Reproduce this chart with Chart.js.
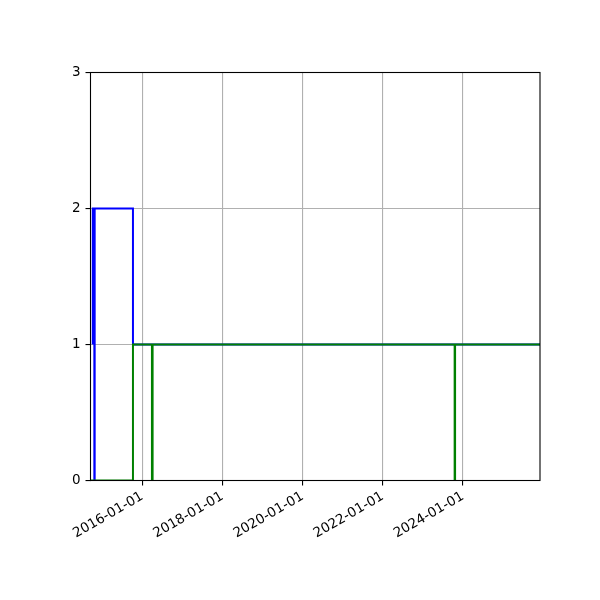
<!DOCTYPE html>
<html>
<head>
<meta charset="utf-8">
<script src="https://cdn.jsdelivr.net/npm/chart.js@4/dist/chart.umd.min.js"></script>
<style>
  html, body { margin: 0; padding: 0; background: #ffffff; }
  #wrap { width: 600px; height: 600px; }
</style>
</head>
<body>
<div id="wrap"><canvas id="c" width="600" height="600"></canvas></div>
<script>
// ---- data (steps-post: each value holds until the next date) ----
const blueDates  = ['2014-10-07', '2014-10-07', '2014-10-21', '2014-10-24', '2015-10-08', '2026-01-01'];
const blueValues = [1, 2, 0, 2, 1, 1];

const greenDates  = ['2014-09-01', '2015-10-08', '2016-03-29', '2016-04-04', '2023-10-18', '2023-10-22', '2026-01-01'];
const greenValues = [0, 1, 0, 1, 0, 1, 1];

const xRange     = ['2014-09-16', '2025-12-04'];
const xTickDates = ['2016-01-01', '2018-01-01', '2020-01-01', '2022-01-01', '2024-01-01'];
const yTicks     = [0, 1, 2, 3];

// ---- helpers ----
const toMs = s => Date.parse(s + 'T00:00:00Z');
const pad2 = n => String(n).padStart(2, '0');
const fmtDate = ms => { const d = new Date(ms); return d.getUTCFullYear() + '-' + pad2(d.getUTCMonth() + 1) + '-' + pad2(d.getUTCDate()); };
const toPoints = (dates, vals) => dates.map((d, i) => ({ x: toMs(d), y: vals[i] }));

const framePlugin = {
  id: 'frame',
  afterDatasetsDraw(chart) {
    const { ctx, chartArea: a } = chart;
    ctx.save();
    ctx.strokeStyle = '#000000';
    ctx.lineWidth = 1.1;
    ctx.strokeRect(a.left, a.top, a.right - a.left, a.bottom - a.top);
    ctx.restore();
  }
};

new Chart(document.getElementById('c'), {
  type: 'line',
  data: {
    datasets: [
      {
        label: 'blue',
        data: toPoints(blueDates, blueValues),
        borderColor: '#0000ff',
        borderWidth: 2,
        stepped: 'before',
        pointRadius: 0,
        fill: false,
        clip: 0,
        order: 2
      },
      {
        label: 'green',
        data: toPoints(greenDates, greenValues),
        borderColor: '#008000',
        borderWidth: 2,
        stepped: 'before',
        pointRadius: 0,
        fill: false,
        clip: 0,
        order: 1
      }
    ]
  },
  options: {
    responsive: false,
    animation: false,
    devicePixelRatio: 1,
    layout: { padding: { top: 72.5, right: 60, left: 0, bottom: 0 } },
    plugins: { legend: { display: false }, title: { display: false }, tooltip: { enabled: false } },
    scales: {
      x: {
        type: 'linear',
        min: toMs(xRange[0]),
        max: toMs(xRange[1]),
        afterBuildTicks: s => { s.ticks = xTickDates.map(d => ({ value: toMs(d) })); },
        afterFit: s => { s.height = 119.5; },
        grid: { color: '#b0b0b0', lineWidth: 1.1, tickColor: '#000000', tickLength: 5, drawTicks: true },
        border: { display: false },
        ticks: {
          callback: v => fmtDate(v),
          minRotation: 30, maxRotation: 30,
          autoSkip: false,
          padding: 3,
          color: '#000000',
          font: { family: 'DejaVu Sans', size: 13.5 }
        }
      },
      y: {
        type: 'linear',
        min: 0, max: 3,
        afterBuildTicks: s => { s.ticks = yTicks.map(v => ({ value: v })); },
        afterFit: s => { s.width = 90.5; },
        grid: { color: '#b0b0b0', lineWidth: 1.1, tickColor: '#000000', tickLength: 5, drawTicks: true },
        border: { display: false },
        ticks: {
          callback: v => String(v),
          padding: 5,
          color: '#000000',
          font: { family: 'DejaVu Sans', size: 13.5 }
        }
      }
    }
  },
  plugins: [framePlugin]
});
</script>
</body>
</html>
